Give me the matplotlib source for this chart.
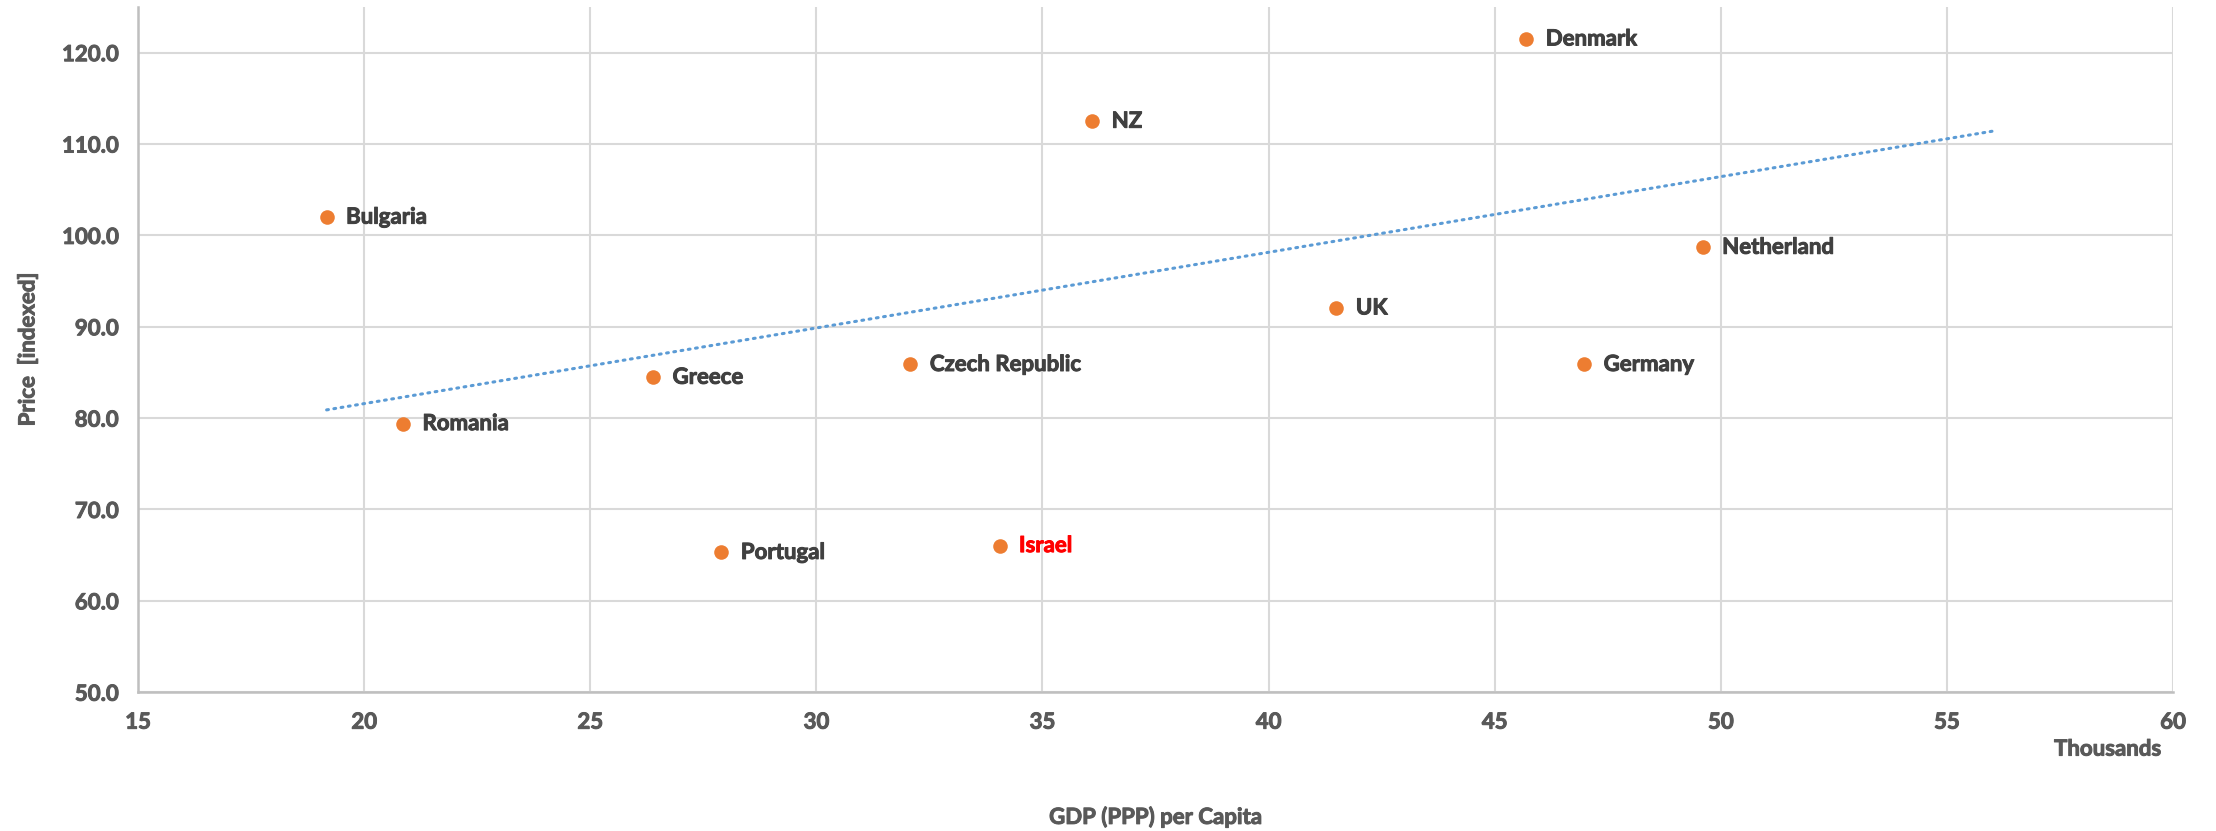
import matplotlib
matplotlib.use("Agg")
import matplotlib.pyplot as plt
import matplotlib.patheffects as pe
from matplotlib.ticker import FormatStrFormatter

# data (GDP in thousands)
countries = ["Denmark", "NZ", "Bulgaria", "Netherland", "UK", "Czech Republic",
             "Germany", "Greece", "Romania", "Portugal", "Israel"]
gdp = [45.7, 36.1, 19.17, 49.6, 41.5, 32.08, 46.98, 26.39, 20.86, 27.9, 34.05]
price = [121.5, 112.5, 102.0, 98.7, 92.06, 85.87, 85.87, 84.47, 79.4, 65.3, 66.05]
highlight = "Israel"

# trendline end points as drawn
trend_x = [19.17, 56.0]
trend_y = [80.9, 111.4]

plt.rcParams['font.family'] = ['Lato', 'DejaVu Sans']
FS = 16


def thick(c):
    # Calibri bold is heavier than Lato bold, fatten glyphs a little
    return [pe.withStroke(linewidth=0.7, foreground=c)]


fig = plt.figure(figsize=(22.16, 8.31), dpi=100)
ax = fig.add_axes([0.0623, 0.167, 0.9183, 0.8246])

grid_c = "#D9D9D9"
tick_c = "#595959"
ax.set_xlim(15, 60)
ax.set_ylim(50, 125)
ax.set_xticks(range(15, 61, 5))
ax.set_yticks(range(50, 121, 10))
ax.yaxis.set_major_formatter(FormatStrFormatter('%.1f'))
ax.grid(True, color=grid_c, linewidth=1.5)
ax.set_axisbelow(True)
for s in ["top", "right"]:
    ax.spines[s].set_visible(False)
for s in ["left", "bottom"]:
    ax.spines[s].set_color("#BFBFBF")
    ax.spines[s].set_linewidth(1.8)
ax.tick_params(length=0, labelsize=FS, labelcolor=tick_c, pad=14)
for lab in ax.get_xticklabels() + ax.get_yticklabels():
    lab.set_fontweight("bold")
    lab.set_path_effects(thick(tick_c))

ax.plot(trend_x, trend_y, color="#5B9BD5", linewidth=2.2,
        linestyle=(0, (0.6, 1.8)), dash_capstyle="round", zorder=2)

ax.scatter(gdp, price, s=110, color="#ED7D31", zorder=3, linewidths=0)

for name, x, y in zip(countries, gdp, price):
    c = "#FF0000" if name == highlight else "#404040"
    ax.annotate(name, (x, y), xytext=(14, 0), textcoords="offset points",
                va="center", ha="left", fontsize=FS, fontweight="bold", color=c,
                path_effects=thick(c))

ax.text(0.9945, -0.083, "Thousands", transform=ax.transAxes, ha="right", va="center",
        fontsize=FS, fontweight="bold", color=tick_c, path_effects=thick(tick_c))
fig.text(0.5215, 0.017, "GDP (PPP) per Capita", ha="center", va="center",
         fontsize=FS, fontweight="bold", color=tick_c, path_effects=thick(tick_c))
fig.text(0.0126, 0.58, "Price  [indexed]", rotation=90, ha="center", va="center",
         fontsize=FS, fontweight="bold", color=tick_c, path_effects=thick(tick_c))

fig.savefig("out.png", dpi=100, facecolor="white")
